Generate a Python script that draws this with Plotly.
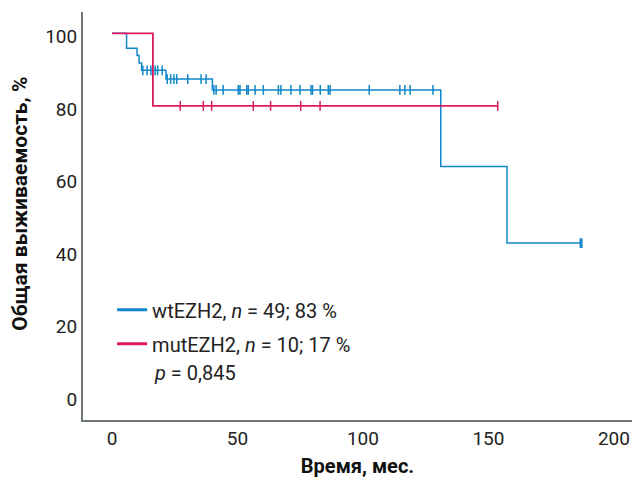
import plotly.graph_objects as go

# ---- data ----
# wtEZH2: step times and survival (%) after each step
wt_step_t = [0, 5.8, 10.0, 10.8, 11.8, 21.5, 40.0, 131.0, 157.4, 187.0]
wt_step_s = [100, 95.9, 93.9, 91.8, 89.8, 87.4, 84.4, 63.3, 42.2, 42.2]
wt_cens_t = [12.3, 14.0, 15.5, 17.2, 18.2, 20.0,
             22.0, 23.4, 24.7, 25.8, 30.2, 35.5, 37.5,
             40.6, 41.5, 44.3, 50.3, 51.0, 53.7, 54.3, 57.0, 60.3, 66.3,
             67.3, 71.3, 74.9, 79.3, 79.9, 83.0, 86.2, 86.9, 102.5, 114.7,
             116.7, 118.8, 127.9, 186.6, 187.2]

mut_step_t = [0, 16.3, 153.7]
mut_step_s = [100, 80.0, 80.0]
mut_cens_t = [27.2, 36.4, 39.7, 56.3, 63.2, 75.2, 82.9, 153.7]

x_ticks = [0, 50, 100, 150, 200]
y_ticks = [0, 20, 40, 60, 80, 100]

legend_wt = "wtEZH2, <i>n</i> = 49; 83 %"
legend_mut = "mutEZH2, <i>n</i> = 10; 17 %"
p_text = "<i>p</i> = 0,845"
x_title = "Время, мес."
y_title = "Общая выживаемость, %"

BLUE = "#0f86c8"
RED = "#dc1a5c"


def surv_at(t, ts, ss):
    val = ss[0]
    for ti, si in zip(ts, ss):
        if ti <= t:
            val = si
    return val


wt_cens_s = [surv_at(t, wt_step_t, wt_step_s) for t in wt_cens_t]
mut_cens_s = [surv_at(t, mut_step_t, mut_step_s) for t in mut_cens_t]

fig = go.Figure()

# curves
fig.add_trace(go.Scatter(x=wt_step_t, y=wt_step_s, mode="lines", line_shape="hv",
                         line=dict(color=BLUE, width=1.5), showlegend=False, hoverinfo="skip"))
fig.add_trace(go.Scatter(x=mut_step_t, y=mut_step_s, mode="lines", line_shape="hv",
                         line=dict(color=RED, width=1.8), showlegend=False, hoverinfo="skip"))
# censor marks
fig.add_trace(go.Scatter(x=wt_cens_t, y=wt_cens_s, mode="markers",
                         marker=dict(symbol="line-ns", size=7, line=dict(color=BLUE, width=1.5)),
                         showlegend=False))
fig.add_trace(go.Scatter(x=mut_cens_t, y=mut_cens_s, mode="markers",
                         marker=dict(symbol="line-ns", size=7, line=dict(color=RED, width=1.5)),
                         showlegend=False))

# legend entries
fig.add_trace(go.Scatter(x=[None], y=[None], mode="lines", name=legend_wt,
                         line=dict(color=BLUE, width=3), legendgroup="a"))
fig.add_trace(go.Scatter(x=[None], y=[None], mode="lines", name=legend_mut,
                         line=dict(color=RED, width=3), legendgroup="b"))

fig.add_annotation(text=p_text, xref="paper", yref="paper", x=0.1255, y=0.115,
                   xanchor="left", yanchor="middle", showarrow=False,
                   font=dict(family="Roboto", size=20, color="#222222"))

# y-axis title (placed as an annotation to match its position)
fig.add_annotation(text="<b>" + y_title + "</b>", xref="paper", yref="paper",
                   x=-0.115, y=0.53, textangle=-90, showarrow=False,
                   xanchor="center", yanchor="middle",
                   font=dict(family="Roboto", size=21, color="#111111"))

axis_col = "#6e7676"
fig.update_xaxes(range=[-11.55, 207.2], tickvals=x_ticks, ticks="", showgrid=False,
                 zeroline=False, showline=True, linecolor=axis_col, linewidth=2,
                 automargin=False,
                 tickfont=dict(family="Roboto", size=19, color="#222222"),
                 title=dict(text="<b>" + x_title + "</b>", standoff=10,
                            font=dict(family="Roboto", size=20, color="#111111")))
fig.update_yaxes(range=[-6.53, 105.87], tickvals=y_ticks, ticks="", showgrid=False,
                 zeroline=False, showline=True, linecolor=axis_col, linewidth=2,
                 automargin=False, ticklabelshift=3,
                 tickfont=dict(family="Roboto", size=19, color="#222222"))

fig.update_layout(
    width=635, height=480,
    margin=dict(l=83, r=3, t=12, b=60),
    paper_bgcolor="white", plot_bgcolor="white",
    legend=dict(x=0.053, y=0.318, xanchor="left", yanchor="top",
                font=dict(family="Roboto", size=20, color="#222222"),
                bgcolor="rgba(0,0,0,0)", traceorder="grouped", tracegroupgap=5),
)

fig.write_html("out.html", config={"displayModeBar": False},
               post_script="document.body.style.margin='0';")
